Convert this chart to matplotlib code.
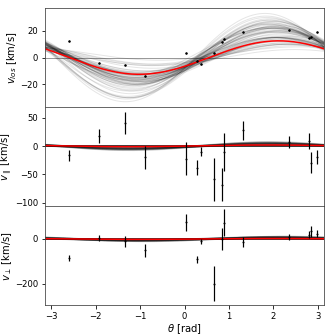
import matplotlib
matplotlib.use('Agg')
import matplotlib.pyplot as plt
import numpy as np

# observed stars: angle (rad) and velocities (km/s)
theta_obs = [-2.594, -1.925, -1.33, -0.896, 0.034, 0.275, 0.372, 0.658,
             0.845, 0.896, 1.311, 2.347, 2.797, 2.84, 2.98]
v_los = [12.6, -3.9, -5.7, -14.0, 3.7, -2.2, -4.9, 3.5,
         11.4, 14.1, 18.8, 20.3, 14.3, 15.0, 18.8]
v_par = [-16, 18, 41, -20, -22, -38, -10, -59,
         -68, -10, 28, 7, 9, -29, -19]
v_par_err = [10, 12, 19, 20, 29, 13, 8, 38,
             29, 34, 17, 10, 14, 18, 12]
v_perp = [-85, 4, -11, -51, 74, -90, -11, -200,
          0, 72, -15, 9, 19, 34, 24]
v_perp_err = [15, 15, 25, 29, 39, 16, 11, 78,
              48, 60, 22, 13, 17, 25, 15]

# posterior model draws: v = A sin(theta - phi) + c
A_los = [14, 18, 16, 20, 12, 22, 15, 17, 19, 13, 21, 24, 11, 16, 18, 20, 14, 23, 17, 15,
         19, 26, 10, 13, 21, 18, 16, 22, 12, 20, 15, 17, 25, 19, 14, 30, 8, 28, 6, 18,
         27, 31, 9, 24, 7, 29, 13, 21, 5, 33, 16, 26, 11, 19, 23, 8, 28, 15, 20, 12]
phi_los = [0.45, 0.55, 0.40, 0.50, 0.62, 0.35, 0.58, 0.48, 0.42, 0.70, 0.52, 0.38, 0.66, 0.44,
           0.60, 0.47, 0.53, 0.41, 0.57, 0.64, 0.36, 0.43, 0.75, 0.50, 0.46, 0.33, 0.68, 0.54,
           0.59, 0.39, 0.72, 0.49, 0.31, 0.61, 0.56, 0.28, 0.80, 0.35, 0.90, 0.51,
           0.30, 0.26, 0.85, 0.40, 0.95, 0.32, 0.62, 0.45, 1.00, 0.24, 0.55, 0.37, 0.70, 0.48,
           0.42, 0.78, 0.34, 0.58, 0.50, 0.66]
c_los = [1, 2, -1, 3, 0, 2, 1, -2, 4, 0, 1, 2, -1, 3, 0, 2, 1, 0, 2, -1,
         3, 1, 0, 2, 1, 4, -1, 2, 0, 3, 1, 2, 0, 1, 3, 0, 2, 1, 0, 2,
         -2, 0, 1, 3, 2, -1, 0, 1, 3, 0, -1, 2, 0, 1, 2, 3, -2, 0, 1, 2]
A_par = [3, 5, 4, 6, 2, 5, 4, 7, 3, 6, 5, 4, 2, 5, 6, 3, 4, 5, 7, 4]
phi_par = [0.3, 0.4, 0.2, 0.35, 0.5, 0.25, 0.45, 0.3, 0.4, 0.2,
           0.35, 0.5, 0.3, 0.4, 0.25, 0.45, 0.3, 0.35, 0.4, 0.2]
A_perp = [4, 8, 6, 10, 5, 7, 9, 3, 6, 8, 5, 7, 10, 4, 6, 8, 7, 5, 9, 6]
phi_perp = [0.5, 0.6, 0.4, 0.7, 0.5, 0.3, 0.6, 0.5, 0.8, 0.4,
            0.6, 0.5, 0.7, 0.4, 0.5, 0.6, 0.3, 0.5, 0.7, 0.6]

# best-fit (red)
best_los = (12.5, 0.55, 0.0)
best_par = (1.5, 0.3, 0.5)
best_perp = (2.0, 0.5, 0.0)

th = np.linspace(-np.pi, np.pi, 300)

plt.rcParams['xtick.labelsize'] = 8.5
plt.rcParams['ytick.labelsize'] = 8.5

fig, axes = plt.subplots(3, 1, figsize=(331 / 72, 336 / 72), dpi=72, sharex=True)
fig.subplots_adjust(left=0.136, right=0.979, top=0.976, bottom=0.092, hspace=0)
ax1, ax2, ax3 = axes

# top panel
ax1.axhline(0, color='gray', lw=1, alpha=0.8)
for A, p, c in zip(A_los, phi_los, c_los):
    ax1.plot(th, A * np.sin(th - p) + c, color='k', alpha=0.1, lw=1)
ax1.plot(th, best_los[0] * np.sin(th - best_los[1]) + best_los[2], color='red', lw=1.5)
ax1.plot(theta_obs, v_los, 'k.', ms=3)
ax1.set_ylim(-37, 37)
ax1.set_yticks([-20, 0, 20])
ax1.set_ylabel(r'$v_{los}$ [km/s]', labelpad=1)

# middle panel
for A, p in zip(A_par, phi_par):
    ax2.plot(th, A * np.sin(th - p), color='k', alpha=0.1, lw=2)
ax2.axhline(0, color='k', lw=1.5)
ax2.plot(th, best_par[0] * np.sin(th - best_par[1]) + best_par[2], color='red', lw=1.5)
ax2.errorbar(theta_obs, v_par, yerr=v_par_err, fmt='k.', ms=2, elinewidth=1.2)
ax2.set_ylim(-106, 69)
ax2.set_yticks([-100, -50, 0, 50])
ax2.set_ylabel(r'$v_\parallel$ [km/s]', labelpad=0)

# bottom panel
for A, p in zip(A_perp, phi_perp):
    ax3.plot(th, A * np.sin(th - p), color='k', alpha=0.1, lw=2)
ax3.axhline(0, color='k', lw=1.5)
ax3.plot(th, best_perp[0] * np.sin(th - best_perp[1]) + best_perp[2], color='red', lw=1.5)
ax3.errorbar(theta_obs, v_perp, yerr=v_perp_err, fmt='k.', ms=2, elinewidth=1.2)
ax3.set_ylim(-294, 146)
ax3.set_yticks([-200, 0])
ax3.set_ylabel(r'$v_\perp$ [km/s]', labelpad=1)

ax3.set_xlim(-np.pi, np.pi)
ax3.set_xticks([-3, -2, -1, 0, 1, 2, 3])
ax3.set_xlabel(r'$\theta$ [rad]', labelpad=1)

for ax in axes:
    for s in ax.spines.values():
        s.set_color('#444444')

fig.savefig('out.png', dpi=72)
